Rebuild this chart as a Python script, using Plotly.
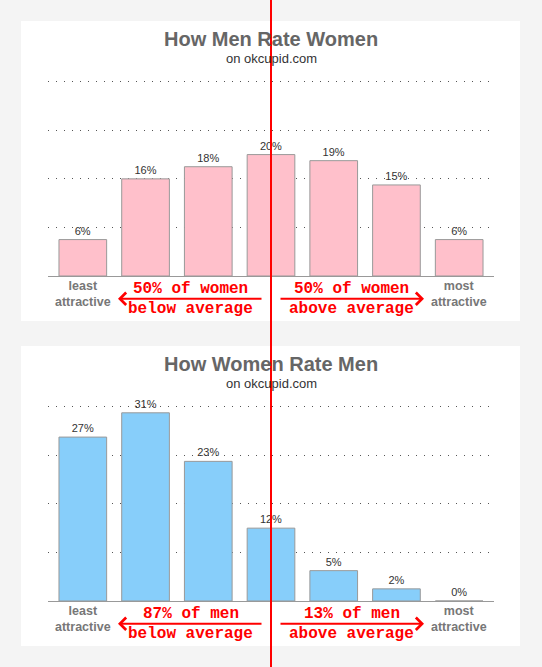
import plotly.graph_objects as go

W, H = 542, 667

ratings = list(range(7))
end_labels = ['least<br>attractive', 'most<br>attractive']
women_pct = [6, 16, 18, 20, 19, 15, 6]
men_pct = [27, 31, 23, 12, 5, 2, 0]
panels = [
    dict(title='How Men Rate Women', values=women_pct, color='#FFC0CB',
         below='50% of women', above='50% of women', axis=''),
    dict(title='How Women Rate Men', values=men_pct, color='#87CEFA',
         below='87% of men', above='13% of men', axis='2'),
]


def px(x):
    return x / W


def py(y):
    return 1 - y / H


fig = go.Figure()
shapes = []
annotations = []

for i, p in enumerate(panels):
    dy = 325 * i
    ax_id = p['axis']
    xa, ya = 'x' + ax_id, 'y' + ax_id

    # white card behind each chart
    shapes.append(dict(type='rect', xref='paper', yref='paper',
                       x0=px(21), x1=px(520), y0=py(321 + dy), y1=py(21 + dy),
                       fillcolor='white', line_width=0, layer='below'))

    fig.add_trace(go.Bar(
        x=ratings, y=p['values'], xaxis=xa, yaxis=ya,
        marker=dict(color=p['color'], line=dict(color='#999999', width=1)),
        texttemplate='%{y}%', textposition='outside', cliponaxis=False,
        textfont=dict(family='Liberation Sans', size=11, color='#333333'),
        hoverinfo='skip'))

    layout_x = dict(domain=[px(48), px(494)], range=[-0.555, 6.555],
                    showticklabels=False, showgrid=False, zeroline=False,
                    showline=True, linecolor='#999999', linewidth=1,
                    fixedrange=True)
    # range a bit above 32 so the top dotted line is kept
    layout_y = dict(domain=[py(276 + dy), py(78.7 + dy)], range=[0, 32.5],
                    tickvals=[8, 16, 24, 32], showticklabels=False,
                    showgrid=True, gridcolor='#555555', gridwidth=1,
                    griddash='1px,7px', zeroline=False, fixedrange=True)
    if ax_id:
        layout_x['anchor'] = ya
        layout_y['anchor'] = xa
    fig.update_layout({'xaxis' + ax_id: layout_x, 'yaxis' + ax_id: layout_y})

    def note(text, x, y, font, xref='paper'):
        return dict(text=text, xref=xref, yref='paper', x=x, y=y,
                    xanchor='center', yanchor='middle', showarrow=False, font=font)

    annotations.append(note('<b>' + p['title'] + '</b>', 0.5, py(39 + dy),
                            dict(family='Liberation Sans', size=20, color='#666666')))
    annotations.append(note('on okcupid.com', 0.5, py(58.5 + dy),
                            dict(family='Liberation Sans', size=13, color='#333333')))

    for xv, lab in zip([ratings[0], ratings[-1]], end_labels):
        annotations.append(note('<b>' + lab + '</b>', xv, py(294 + dy),
                                dict(family='Liberation Sans', size=12.5, color='#777777'),
                                xref=xa))

    red = dict(family='Liberation Mono', size=16, color='#ff0000')
    annotations += [
        note('<b>' + p['below'] + '</b>', px(190.5), py(288.5 + dy), red),
        note('<b>below average</b>', px(190.5), py(308.5 + dy), red),
        note('<b>' + p['above'] + '</b>', px(351.5), py(288.5 + dy), red),
        note('<b>above average</b>', px(351.5), py(308.5 + dy), red),
        dict(text='', xref='paper', yref='paper', x=px(118), y=py(298.7 + dy),
             ax=145, ay=0, showarrow=True, arrowhead=4, arrowsize=1.2,
             arrowwidth=2, arrowcolor='#ff0000', standoff=0),
        dict(text='', xref='paper', yref='paper', x=px(424), y=py(298.7 + dy),
             ax=-145, ay=0, showarrow=True, arrowhead=4, arrowsize=1.2,
             arrowwidth=2, arrowcolor='#ff0000', standoff=0),
    ]

# red divider through the middle of both charts
shapes.append(dict(type='line', xref='paper', yref='paper', x0=px(271), x1=px(271),
                   y0=0, y1=1, line=dict(color='#ff0000', width=2), layer='above'))

fig.update_layout(
    width=W, height=H, margin=dict(l=0, r=0, t=0, b=0),
    paper_bgcolor='#f4f4f4', plot_bgcolor='rgba(0,0,0,0)',
    showlegend=False, bargap=0.24,
    shapes=shapes, annotations=annotations)

fig.write_html('out.html', config={'displayModeBar': False},
               post_script="document.body.style.margin='0';"
                           "document.body.style.background='#f4f4f4';")
